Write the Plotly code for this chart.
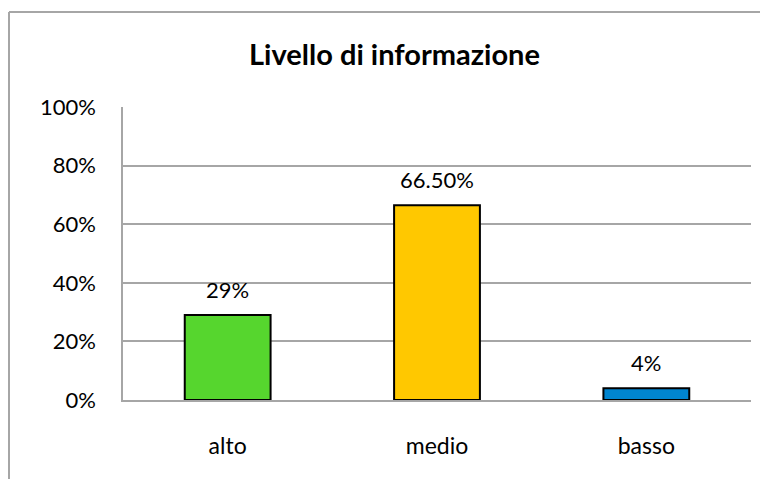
import plotly.graph_objects as go

categories = ["alto", "medio", "basso"]
values = [29, 66.5, 4]
value_labels = ["29%", "66.50%", "4%"]
colors = ["#56d62e", "#ffc800", "#0085d0"]
y_ticks = [0, 20, 40, 60, 80, 100]
y_tick_labels = [f"{v}%" for v in y_ticks]

FONT = "Lato, Carlito, Calibri, sans-serif"
GRID = "#a6a6a6"

fig = go.Figure(go.Bar(
    x=categories, y=values,
    marker=dict(color=colors, line=dict(color="#000000", width=2)),
    cliponaxis=False,
))

for c, v, t in zip(categories, values, value_labels):
    fig.add_annotation(x=c, y=v, text=t, showarrow=False, yanchor="bottom",
                       yshift=10, font=dict(size=22, family=FONT, color="#000000"))

W, H = 768, 479
# page body has an 8px offset; margins chosen so the plot area lands at
# window x 123..751, y 107..400
off = 8
ml, mr, mt, mb = 123 - off, W - (751 - off), 107 - off, H - (400 - off)
pw, ph = W - ml - mr, H - mt - mb

def px_x(p):
    return (p - ml) / pw

def px_y(p):
    return (H - mb - p) / ph

fig.update_layout(
    width=W, height=H,
    margin=dict(l=ml, r=mr, t=mt, b=mb),
    paper_bgcolor="white", plot_bgcolor="white",
    bargap=0.59,
    showlegend=False,
    title=dict(text="<b>Livello di informazione</b>", x=(394.5 - off) / W,
               xanchor="center",
               y=1 - (55 - off) / H, yanchor="middle",
               font=dict(size=29, family=FONT, color="#000000")),
    font=dict(family=FONT, size=22, color="#000000"),
    yaxis=dict(range=[0, 100], tickvals=y_ticks, ticktext=y_tick_labels,
               showgrid=True, gridcolor=GRID, gridwidth=1.5,
               showline=True, linecolor=GRID, linewidth=1.5,
               zeroline=False, ticks="", ticklabelstandoff=21,
               tickfont=dict(size=22)),
    xaxis=dict(showline=True, linecolor=GRID, linewidth=2,
               ticks="", ticklabelstandoff=24, tickfont=dict(size=23)),
    shapes=[
        dict(type="line", xref="paper", yref="paper",
             x0=px_x(1), x1=px_x(1), y0=px_y(4), y1=px_y(H + 20),
             line=dict(color=GRID, width=2)),
        dict(type="line", xref="paper", yref="paper",
             x0=px_x(1), x1=px_x(W + 20), y0=px_y(4), y1=px_y(4),
             line=dict(color=GRID, width=2)),
    ],
)

fig.write_html("out.html")
